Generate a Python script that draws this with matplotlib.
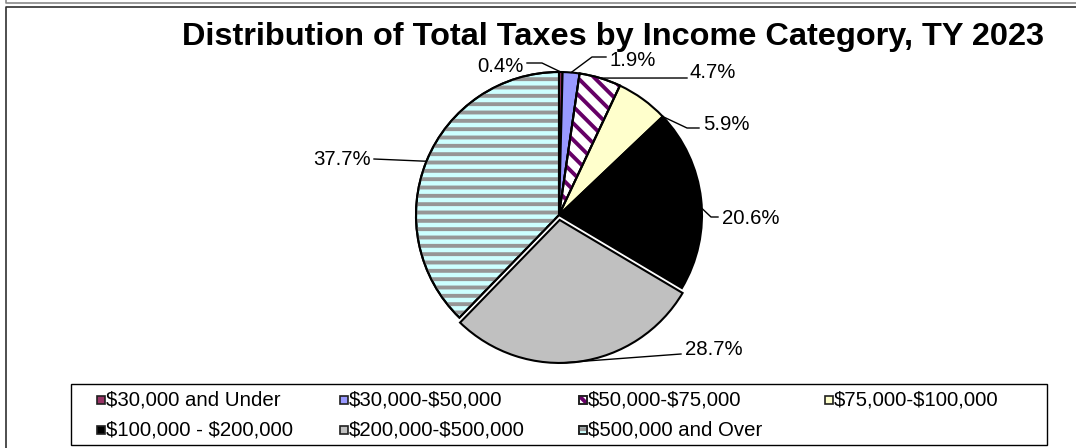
import matplotlib
matplotlib.use('Agg')
import matplotlib.pyplot as plt
from matplotlib.patches import Rectangle, Wedge
import numpy as np

plt.rcParams['font.family'] = ['Liberation Sans', 'DejaVu Sans']
plt.rcParams['text.parse_math'] = False
plt.rcParams['hatch.linewidth'] = 2.8

# tax share by income band, TY 2023
categories = ['$30,000 and Under', '$30,000-$50,000', '$50,000-$75,000',
              '$75,000-$100,000', '$100,000 - $200,000', '$200,000-$500,000',
              '$500,000 and Over']
shares = [0.4, 1.9, 4.7, 5.9, 20.6, 28.7, 37.7]

face_colors = ['#993366', '#9999FF', '#FFFFFF', '#FFFFCC', '#000000', '#C0C0C0', '#CCFFFF']
hatches = [None, None, '\\\\', None, None, None, '--']
hatch_colors = [None, None, '#660066', None, None, None, '#969696']
explode = [0, 0, 0, 0, 0, 5, 0]

W, H = 1076, 448
CX, CY, R = 559, 215, 143


def P(x, y):
    # pixel position (from top-left) -> data coords around the pie centre
    return x - CX, CY - y


fig = plt.figure(figsize=(W / 100, H / 100), dpi=100)
ax = fig.add_axes([0, 0, 1, 1])

wedges, _ = ax.pie(shares, radius=R, startangle=90, counterclock=False,
                   explode=explode, colors=face_colors,
                   wedgeprops=dict(edgecolor='black', linewidth=1.5))

for w, h, hc in zip(wedges, hatches, hatch_colors):
    if h is None:
        continue
    ax.add_patch(Wedge(w.center, w.r, w.theta1, w.theta2, facecolor='none',
                       edgecolor=hc, linewidth=0, hatch=h, zorder=2))
    ax.add_patch(Wedge(w.center, w.r, w.theta1, w.theta2, facecolor='none',
                       edgecolor='black', linewidth=1.5, zorder=3))

ax.set_xlim(-CX, W - CX)
ax.set_ylim(CY - H, CY)
ax.set_aspect('equal')
ax.axis('off')

# percent labels: text position, alignment, leader elbows (text side first), attach point along slice
label_layout = [
    (524, 72, 'right', [(527, 63), (542, 63)], 0.5),
    (610, 66.5, 'left', [(606, 57), (592, 57)], 0.5),
    (690, 78, 'left', [(687, 78)], 0.5),
    (703, 130, 'left', [(699, 128), (687, 128)], 1.0),
    (722, 224, 'left', [(718, 217), (711, 217)], 0.55),
    (685, 355, 'left', [(681, 354)], 0.57),
    (371, 165, 'right', [(374, 159)], 0.5),
]

for w, v, (tx, ty, ha, elbows, frac) in zip(wedges, shares, label_layout):
    ang = np.deg2rad(w.theta2 - frac * (w.theta2 - w.theta1))
    ax_, ay_ = w.center[0] + w.r * np.cos(ang), w.center[1] + w.r * np.sin(ang)
    pts = [P(x, y) for x, y in elbows] + [(ax_, ay_)]
    xs, ys = zip(*pts)
    ax.plot(xs, ys, color='black', lw=1.0, clip_on=False, zorder=4)
    ax.text(*P(tx, ty), f'{v:.1f}%', ha=ha, va='baseline', fontsize=14.7, zorder=5)

ax.text(*P(613, 45), 'Distribution of Total Taxes by Income Category, TY 2023',
        ha='center', va='baseline', fontsize=23.4, fontweight='bold')

# legend box, drawn row by row
ax.add_patch(Rectangle(P(71, 445), 976, 61, facecolor='white', edgecolor='black',
                       linewidth=1.0, clip_on=False, zorder=1))
col_x = [106, 349, 588, 834]
row_y = [405, 435]
for i, (cat, fc, h, hc) in enumerate(zip(categories, face_colors, hatches, hatch_colors)):
    tx = col_x[i % 4]
    ty = row_y[i // 4]
    mx, my = P(tx - 9, ty - 1)
    ax.add_patch(Rectangle((mx, my), 8, 8, facecolor=fc, edgecolor='#202020',
                           linewidth=1.2, clip_on=False, zorder=3))
    if h is not None:
        ax.add_patch(Rectangle((mx, my), 8, 8, facecolor='none', edgecolor=hc,
                               linewidth=0, hatch=h, clip_on=False, zorder=3))
        ax.add_patch(Rectangle((mx, my), 8, 8, facecolor='none', edgecolor='#202020',
                               linewidth=1.2, clip_on=False, zorder=4))
    ax.text(*P(tx, ty), cat, ha='left', va='baseline', fontsize=14.7, zorder=4)

# outer frame lines
for pts, col in [([(6, 0), (6, 3), (W, 3)], '#8a8a8a'),
                 ([(6.5, H), (6.5, 7), (W, 7)], '#303030')]:
    xs, ys = zip(*[P(x, y) for x, y in pts])
    ax.plot(xs, ys, color=col, lw=1.2, clip_on=False)

fig.savefig('out.png', dpi=100)
